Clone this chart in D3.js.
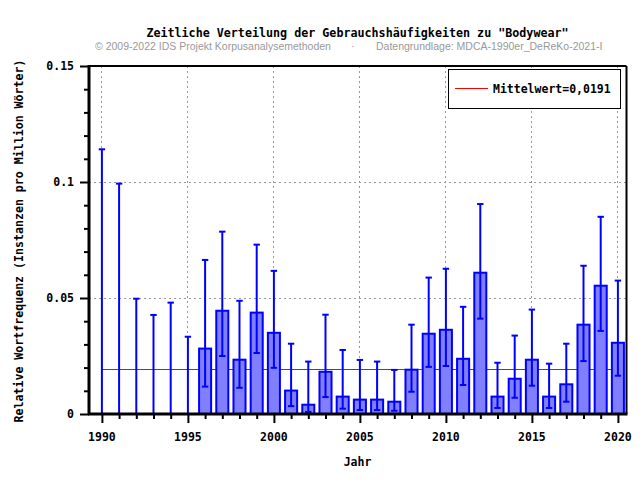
<!DOCTYPE html>
<html><head><meta charset="utf-8">
<script src="https://cdn.jsdelivr.net/npm/d3@7"></script>
<style>body{margin:0;background:#fff}svg{display:block}</style>
</head><body>
<script>
const years = d3.range(1990, 2021);
const values = [0,0,0,0,0,0,0.0282,0.0445,0.0234,0.0437,0.0350,0.0101,0.0040,0.0182,0.0075,0.0062,0.0062,0.0053,0.0191,0.0346,0.0363,0.0238,0.0609,0.0075,0.0152,0.0234,0.0075,0.0128,0.0385,0.0553,0.0307];
const errLow = [0,0,0,0,0,0,0.0118,0.0250,0.0113,0.0263,0.0199,0.0034,0.0009,0.0073,0.0023,0.0017,0.0017,0.0014,0.0096,0.0203,0.0207,0.0125,0.0411,0.0026,0.0070,0.0122,0.0026,0.0053,0.0228,0.0358,0.0165];
const errHigh = [0.1141,0.0993,0.0497,0.0427,0.0480,0.0333,0.0664,0.0786,0.0488,0.0730,0.0617,0.0303,0.0226,0.0428,0.0276,0.0233,0.0226,0.0190,0.0385,0.0588,0.0626,0.0462,0.0905,0.0221,0.0338,0.0450,0.0217,0.0303,0.0639,0.0850,0.0575];
const meanValue = 0.0191;
const yTicks = [0, 0.05, 0.1, 0.15];
const yTickLabels = ["0", "0.05", "0.1", "0.15"];
const xTicks = [1990, 1995, 2000, 2005, 2010, 2015, 2020];
const title = 'Zeitliche Verteilung der Gebrauchshäufigkeiten zu "Bodywear"';
const sub1 = '© 2009-2022 IDS Projekt Korpusanalysemethoden';
const sub2 = 'Datengrundlage: MDCA-1990er_DeReKo-2021-I';
const xTitle = 'Jahr';
const yTitle = 'Relative Wortfrequenz (Instanzen pro Million Wörter)';
const legendLabel = 'Mittelwert=0,0191';

const W = 640, H = 480;
const L = 89, R = 626.5, T = 66, B = 414;
const mono = '"DejaVu Sans Mono", monospace';
const svg = d3.select('body').append('svg').attr('width', W).attr('height', H);
const x = d3.scaleLinear().domain([1989.25, 2020.5]).range([L, R]);
const y = d3.scaleLinear().domain([0, 0.15]).range([B, T]);

// grid
const g = svg.append('g');
g.selectAll('.vg').data(xTicks).join('line')
  .attr('x1', d => x(d)).attr('x2', d => x(d)).attr('y1', T).attr('y2', B)
  .attr('stroke', '#999').attr('stroke-dasharray', '2,3').attr('shape-rendering','crispEdges');
g.selectAll('.hg').data([0.05, 0.1]).join('line')
  .attr('x1', L).attr('x2', R).attr('y1', d => y(d)).attr('y2', d => y(d))
  .attr('stroke', '#999').attr('stroke-dasharray', '2,3').attr('shape-rendering','crispEdges');

// mean line
svg.append('line').attr('x1', x(1990)).attr('x2', x(2020)).attr('y1', y(meanValue)).attr('y2', y(meanValue))
  .attr('stroke', '#ff0000').attr('stroke-width', 1).attr('shape-rendering','crispEdges');

// bars
const data = years.map((yr, i) => ({yr, v: values[i], lo: errLow[i], hi: errHigh[i]}));
const bw = x(1990.35) - x(1989.65);
svg.append('g').selectAll('rect').data(data.filter(d => d.v > 0)).join('rect')
  .attr('x', d => x(d.yr) - bw/2).attr('width', bw)
  .attr('y', d => y(d.v)).attr('height', d => y(0) - y(d.v))
  .attr('fill', '#8080ff').attr('stroke', '#0000ff').attr('stroke-width', 2);

// error bars
const eb = svg.append('g').attr('stroke', '#0000ff').attr('stroke-width', 2);
eb.selectAll('.v').data(data).join('line')
  .attr('x1', d => x(d.yr)).attr('x2', d => x(d.yr)).attr('y1', d => y(d.lo)).attr('y2', d => y(d.hi));
eb.selectAll('.ch').data(data).join('line')
  .attr('x1', d => x(d.yr) - 3.2).attr('x2', d => x(d.yr) + 3.2).attr('y1', d => y(d.hi)).attr('y2', d => y(d.hi));
eb.selectAll('.cl').data(data).join('line')
  .attr('x1', d => x(d.yr) - 3.2).attr('x2', d => x(d.yr) + 3.2).attr('y1', d => y(d.lo)).attr('y2', d => y(d.lo));

// frame
svg.append('line').attr('x1', L).attr('x2', R).attr('y1', T).attr('y2', T).attr('stroke', '#000').attr('stroke-width', 2);
svg.append('line').attr('x1', R).attr('x2', R).attr('y1', T).attr('y2', B).attr('stroke', '#000').attr('stroke-width', 2);

// x axis
const xAxis = d3.axisBottom(x).tickValues(years).tickSize(5).tickFormat('');
const xa = svg.append('g').attr('transform', `translate(0,${B})`).call(xAxis);
xa.select('.domain').remove();
xa.selectAll('.tick line').attr('stroke-width', 2).attr('y2', d => d % 5 === 0 ? 9 : 5);
svg.append('line').attr('x1', L - 1).attr('x2', R + 1).attr('y1', B).attr('y2', B).attr('stroke', '#000').attr('stroke-width', 3);
svg.append('g').selectAll('text').data(xTicks).join('text')
  .attr('x', d => x(d)).attr('y', 441).attr('text-anchor', 'middle')
  .attr('font-family', mono).attr('font-weight', 'bold').attr('font-size', '11.5px').text(d => d);

// y axis
const yAxis = d3.axisLeft(y).tickValues(d3.range(0, 16).map(i => i / 100)).tickSize(5).tickFormat('');
const ya = svg.append('g').attr('transform', `translate(${L},0)`).call(yAxis);
ya.select('.domain').remove();
ya.selectAll('.tick line').attr('stroke-width', 2).attr('x2', (d, i) => i % 5 === 0 ? -9 : -5);
svg.append('line').attr('x1', L).attr('x2', L).attr('y1', T - 1).attr('y2', B + 1).attr('stroke', '#000').attr('stroke-width', 3);
svg.append('g').selectAll('text').data(yTicks).join('text')
  .attr('x', 74).attr('y', d => y(d) + 4).attr('text-anchor', 'end')
  .attr('font-family', mono).attr('font-weight', 'bold').attr('font-size', '11.5px')
  .text((d, i) => yTickLabels[i]);

// titles
svg.append('text').attr('x', 357.5).attr('y', 37).attr('text-anchor', 'middle')
  .attr('font-family', mono).attr('font-weight', 'bold').attr('font-size', '11.7px').text(title);
svg.append('text').attr('x', 95).attr('y', 50).attr('font-family', '"Liberation Sans", Arial, sans-serif')
  .attr('font-size', '10.5px').attr('fill', '#999').text(sub1);
svg.append('text').attr('x', 353).attr('y', 50).attr('text-anchor', 'middle').attr('font-family', '"Liberation Sans", Arial, sans-serif')
  .attr('font-size', '10.5px').attr('fill', '#999').text('·');
svg.append('text').attr('x', 376).attr('y', 50).attr('font-family', '"Liberation Sans", Arial, sans-serif')
  .attr('font-size', '10.5px').attr('fill', '#999').text(sub2);
svg.append('text').attr('x', 357.5).attr('y', 466).attr('text-anchor', 'middle')
  .attr('font-family', mono).attr('font-weight', 'bold').attr('font-size', '11.5px').text(xTitle);
svg.append('text').attr('transform', 'translate(23,241) rotate(-90)').attr('text-anchor', 'middle')
  .attr('font-family', mono).attr('font-weight', 'bold').attr('font-size', '11.6px').text(yTitle);

// legend
const lg = svg.append('g');
lg.append('rect').attr('x', 448.5).attr('y', 69.5).attr('width', 172).attr('height', 39)
  .attr('fill', '#fff').attr('stroke', '#000').attr('stroke-width', 1);
lg.append('line').attr('x1', 455).attr('x2', 488).attr('y1', 88.5).attr('y2', 88.5).attr('stroke', '#ff0000').attr('stroke-width', 1);
lg.append('text').attr('x', 493).attr('y', 92.5).attr('font-family', mono).attr('font-weight', 'bold')
  .attr('font-size', '11.5px').text(legendLabel);
</script>
</body></html>
